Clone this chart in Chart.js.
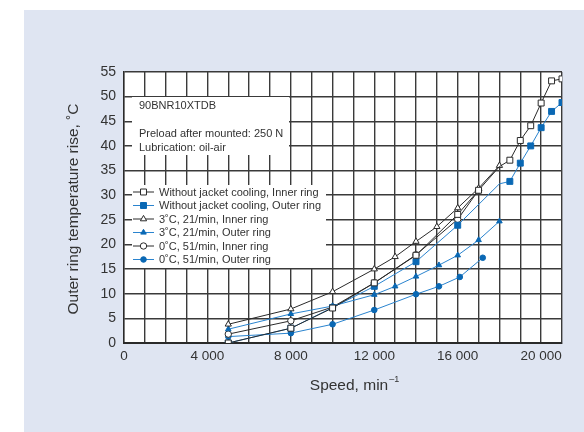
<!DOCTYPE html>
<html>
<head>
<meta charset="utf-8">
<script src="https://cdn.jsdelivr.net/npm/chart.js@4"></script>
<style>
  body { margin: 0; background: #fff; }
  #wrap { position: relative; width: 584px; height: 432px; }
</style>
</head>
<body>
<div id="wrap"><canvas id="tempChart"></canvas></div>
<script>
// data (speed in min^-1, temperature rise in deg C)
const noCoolInnerX = [5000, 8000, 10000, 12000, 14000, 16000, 17000, 18000, 18500, 19000, 19500, 20000, 20500, 21000];
const noCoolInnerY = [0, 3.0, 7.1, 12.2, 17.8, 26.1, 31.0, 35.8, 37.1, 41.1, 44.1, 48.7, 53.2, 53.6];
const noCoolOuterX = [5000, 8000, 10000, 12000, 14000, 16000, 18000, 18500, 19000, 19500, 20000, 20500, 21000];
const noCoolOuterY = [0, 3.0, 7.2, 11.5, 16.5, 23.9, 32.3, 32.8, 36.5, 40.0, 43.7, 47.0, 48.8];
const c3InnerX = [5000, 8000, 10000, 12000, 13000, 14000, 15000, 16000, 17000, 18000];
const c3InnerY = [3.8, 6.9, 10.4, 15.0, 17.5, 20.6, 23.6, 27.4, 31.4, 36.0];
const c3OuterX = [5000, 8000, 10000, 12000, 13000, 14000, 15100, 16000, 17000, 18000];
const c3OuterY = [2.8, 5.9, 7.5, 9.8, 11.5, 13.5, 15.8, 17.8, 20.9, 24.7];
const c0InnerX = [5000, 8000, 10000, 12000, 14000, 16000, 17000];
const c0InnerY = [1.8, 4.5, 7.3, 12.2, 17.9, 25.1, 31.0];
const c0OuterX = [5000, 8000, 10000, 12000, 14000, 15100, 16100, 17200];
const c0OuterY = [1.3, 2.0, 3.8, 6.7, 9.9, 11.5, 13.4, 17.3];

const seriesNames = [
  'Without jacket cooling, Inner ring',
  'Without jacket cooling, Outer ring',
  '3˚C, 21/min, Inner ring',
  '3˚C, 21/min, Outer ring',
  '0˚C, 51/min, Inner ring',
  '0˚C, 51/min, Outer ring'
];
const yTicks = [0, 5, 10, 15, 20, 25, 30, 35, 40, 45, 50, 55];
const xLabelTicks = [0, 4000, 8000, 12000, 16000, 20000];
const noteLines = ['90BNR10XTDB', '', 'Preload after mounted: 250 N', 'Lubrication: oil-air'];

const BLACK = '#2a2a2a';
const GRID = '#3a3a3a';
const BLUE_LINE = '#2a84cf';
const BLUE_MARK = '#0a68b4';
const FONT = '"Liberation Sans", Arial, sans-serif';

function pts(xs, ys) {
  return xs.map((x, i) => ({ x: x, y: ys[i] }));
}

function fmt(v) {
  return String(v).replace(/\B(?=(\d{3})+(?!\d))/g, ' ');
}

const styles = [
  { pointStyle: 'rect', radius: 4.2, open: true },
  { pointStyle: 'rect', radius: 4.2, open: false },
  { pointStyle: 'triangle', radius: 3.6, open: true },
  { pointStyle: 'triangle', radius: 3.2, open: false },
  { pointStyle: 'circle', radius: 3.2, open: true },
  { pointStyle: 'circle', radius: 2.8, open: false }
];

const allData = [
  pts(noCoolInnerX, noCoolInnerY),
  pts(noCoolOuterX, noCoolOuterY),
  pts(c3InnerX, c3InnerY),
  pts(c3OuterX, c3OuterY),
  pts(c0InnerX, c0InnerY),
  pts(c0OuterX, c0OuterY)
];

// points that are only a bend in the line, with no marker in the reference
const hiddenPoints = [[7], [6], [], [], [], []];

const datasets = allData.map((d, i) => {
  const s = styles[i];
  return {
    label: seriesNames[i],
    data: d,
    borderColor: s.open ? BLACK : BLUE_LINE,
    borderWidth: 1,
    pointStyle: s.pointStyle,
    pointRadius: ctx => hiddenPoints[i].includes(ctx.dataIndex) ? 0 : s.radius,
    pointBorderColor: s.open ? BLACK : BLUE_MARK,
    pointBackgroundColor: s.open ? '#fff' : BLUE_MARK,
    pointBorderWidth: 1,
    tension: 0,
    fill: false
  };
});

const decorPlugin = {
  id: 'decor',
  beforeDraw(chart) {
    const c = chart.ctx;
    const a = chart.chartArea;
    c.save();
    c.fillStyle = '#fff';
    c.fillRect(0, 0, chart.width, chart.height);
    c.fillStyle = '#dfe5f2';
    c.fillRect(24, 10, chart.width - 24, chart.height - 10);
    c.fillStyle = '#fff';
    c.fillRect(a.left, a.top, a.right - a.left, a.bottom - a.top);
    c.restore();
  },
  beforeDatasetsDraw(chart) {
    const c = chart.ctx;
    c.save();
    // white boxes over the grid
    c.fillStyle = '#fff';
    c.fillRect(132, 97, 157, 58);
    c.fillRect(132, 185, 194, 83);

    c.fillStyle = '#333';
    c.font = '11px ' + FONT;
    c.textBaseline = 'middle';
    c.textAlign = 'left';
    noteLines.forEach((t, i) => {
      if (t) c.fillText(t, 139, 106 + i * 14);
    });

    // legend
    seriesNames.forEach((name, i) => {
      const y = 192 + i * 13.5;
      const s = styles[i];
      c.strokeStyle = s.open ? BLACK : BLUE_LINE;
      c.lineWidth = 1;
      c.beginPath();
      c.moveTo(133, y);
      c.lineTo(154, y);
      c.stroke();
      c.fillStyle = s.open ? '#fff' : BLUE_MARK;
      c.strokeStyle = s.open ? BLACK : BLUE_MARK;
      Chart.helpers.drawPoint(c, { pointStyle: s.pointStyle, radius: s.radius, borderWidth: 1 }, 143.5, y);
      c.fillStyle = '#333';
      c.fillText(name, 159, y + 0.5);
    });
    c.restore();
  },
  afterDraw(chart) {
    const c = chart.ctx;
    c.save();
    c.fillStyle = '#333';
    c.textBaseline = 'middle';
    // y title
    c.translate(74, 209);
    c.rotate(-Math.PI / 2);
    c.textAlign = 'center';
    c.font = '15.5px ' + FONT;
    c.fillText('Outer ring temperature rise, ˚C', 0, 0);
    c.restore();

    // x title with superscript
    c.save();
    c.fillStyle = '#333';
    c.textBaseline = 'middle';
    c.textAlign = 'left';
    const main = 'Speed, min';
    c.font = '15.5px ' + FONT;
    const w1 = c.measureText(main).width;
    c.font = '9px ' + FONT;
    const w2 = c.measureText('–1').width;
    const x0 = 354 - (w1 + w2) / 2;
    c.font = '15.5px ' + FONT;
    c.fillText(main, x0, 386);
    c.font = '9px ' + FONT;
    c.fillText('–1', x0 + w1 + 1, 380);
    c.restore();
  }
};

new Chart(document.getElementById('tempChart'), {
  type: 'line',
  data: { datasets: datasets },
  options: {
    responsive: true,
    maintainAspectRatio: false,
    animation: false,
    layout: { padding: { left: 0, top: 72, right: 22, bottom: 0 } },
    plugins: {
      legend: { display: false },
      tooltip: { enabled: false }
    },
    scales: {
      x: {
        type: 'linear',
        min: 0,
        max: 21000,
        afterFit(scale) { scale.height = 89; },
        afterBuildTicks(scale) {
          const t = [];
          for (let v = 0; v <= 21000; v += 1000) t.push({ value: v });
          scale.ticks = t;
        },
        ticks: {
          autoSkip: false,
          maxRotation: 0,
          padding: 5,
          color: '#333',
          font: { family: FONT, size: 13.5 },
          callback: v => xLabelTicks.includes(v) ? fmt(v) : ''
        },
        grid: { color: GRID, lineWidth: 1.4, drawTicks: false },
        border: { color: BLACK, width: 2 }
      },
      y: {
        min: 0,
        max: 55,
        afterFit(scale) { scale.width = 124; },
        afterBuildTicks(scale) {
          scale.ticks = yTicks.map(v => ({ value: v }));
        },
        ticks: {
          padding: 8,
          color: '#333',
          font: { family: FONT, size: 14 }
        },
        grid: { color: GRID, lineWidth: 1.4, drawTicks: false },
        border: { color: BLACK, width: 1.4 }
      }
    }
  },
  plugins: [decorPlugin]
});
</script>
</body>
</html>
